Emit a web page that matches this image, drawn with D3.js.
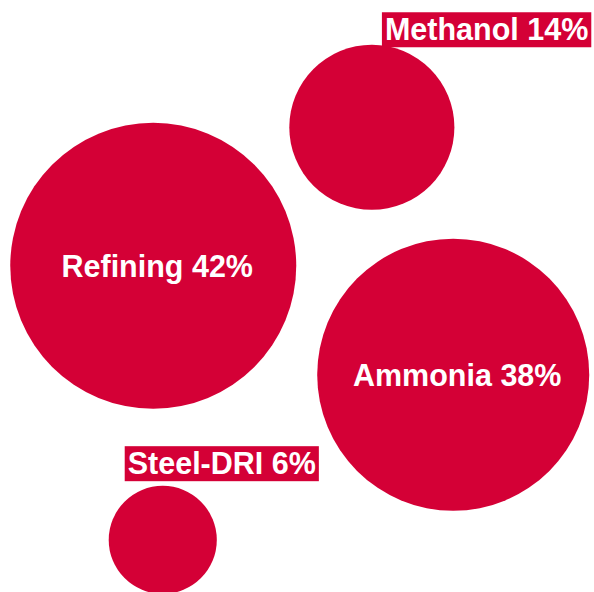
<!DOCTYPE html>
<html>
<head>
<meta charset="utf-8">
<script src="https://cdn.jsdelivr.net/npm/d3@7"></script>
<style>
  body { margin: 0; background: #fff; }
  svg { display: block; }
</style>
</head>
<body>
<script>
// data
var sectors = ["Methanol", "Refining", "Ammonia", "Steel-DRI"];
var shares = [14, 42, 38, 6];

// layout (0-100 units), picked by eye
var bubbleX = [62.6, 25.8, 76.3, 27.4];
var bubbleY = [21.5, 44.9, 63.3, 91.2];
var labelInside = [false, true, true, false];
var labelX = [64.8, 0, 0, 21.5];   // start of the boxed labels
var labelY = [6.8, 0, 0, 80.1];    // baseline of the boxed labels

var width = 594;
var height = 592;
var red = "#d40036";
var fontSize = "30.5px";

var x = d3.scaleLinear().domain([0, 100]).range([0, width]);
var y = d3.scaleLinear().domain([0, 100]).range([0, height]);
var r = d3.scaleSqrt().domain([0, 42]).range([0, 143]);

var data = sectors.map(function(d, i) {
  return {name: d, value: shares[i], cx: bubbleX[i], cy: bubbleY[i],
          inside: labelInside[i], lx: labelX[i], ly: labelY[i]};
});

var svg = d3.select("body")
  .append("svg")
  .attr("width", width)
  .attr("height", height);

svg.selectAll(".bubble")
  .data(data)
  .enter()
  .append("circle")
  .attr("class", "bubble")
  .attr("cx", function(d) { return x(d.cx); })
  .attr("cy", function(d) { return y(d.cy); })
  .attr("r", function(d) { return r(d.value); })
  .attr("fill", red);

function labelText(d) { return d.name + " " + d.value + "%"; }

// labels sitting in the middle of the big bubbles
svg.selectAll(".inner")
  .data(data.filter(function(d) { return d.inside; }))
  .enter()
  .append("text")
  .attr("class", "inner")
  .attr("x", function(d) { return x(d.cx) + 4; })
  .attr("y", function(d) { return y(d.cy) + 11; })
  .attr("text-anchor", "middle")
  .style("font-family", "'Liberation Sans', Arial, sans-serif")
  .style("font-weight", "bold")
  .style("font-size", fontSize)
  .style("fill", "#fff")
  .text(labelText);

// boxed labels above the small bubbles
var tags = svg.selectAll(".tag")
  .data(data.filter(function(d) { return !d.inside; }))
  .enter()
  .append("g")
  .attr("class", "tag");

var tagRect = tags.append("rect").attr("fill", red);

var tagText = tags.append("text")
  .attr("x", function(d) { return x(d.lx); })
  .attr("y", function(d) { return y(d.ly); })
  .style("font-family", "'Liberation Sans', Arial, sans-serif")
  .style("font-weight", "bold")
  .style("font-size", fontSize)
  .style("fill", "#fff")
  .text(labelText);

tagText.each(function(d) {
  var b = this.getBBox();
  d.bx = b.x - 3;
  d.bw = b.width + 6;
});

tagRect
  .attr("x", function(d) { return d.bx; })
  .attr("y", function(d) { return y(d.ly) - 28; })
  .attr("width", function(d) { return d.bw; })
  .attr("height", 35);
</script>
</body>
</html>
